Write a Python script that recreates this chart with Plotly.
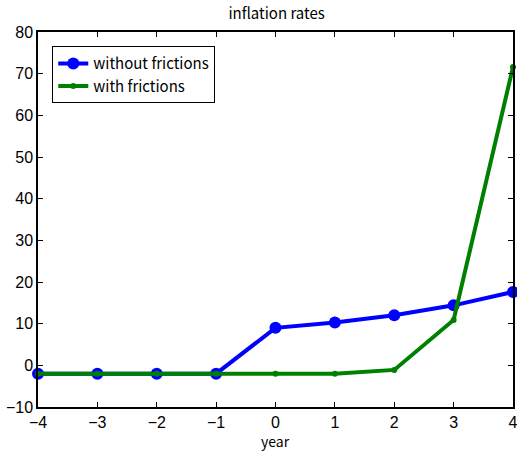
import plotly.graph_objects as go

years = [-4, -3, -2, -1, 0, 1, 2, 3, 4]
without_frictions = [-2.0, -2.0, -2.0, -2.0, 9.0, 10.3, 12.0, 14.4, 17.6]
with_frictions = [-2.0, -2.0, -2.0, -2.0, -2.0, -2.0, -1.1, 10.9, 71.6]
x_ticktext = ["\u22124", "\u22123", "\u22122", "\u22121", "0", "1", "2", "3", "4"]
y_tickvals = [-10, 0, 10, 20, 30, 40, 50, 60, 70, 80]
y_ticktext = ["\u221210", "0", "10", "20", "30", "40", "50", "60", "70", "80"]

fig = go.Figure()
fig.add_trace(go.Scatter(x=years, y=without_frictions, mode="lines+markers",
                         name="without frictions", cliponaxis=False,
                         line=dict(color="#0000ff", width=4),
                         marker=dict(size=12, color="#0000ff")))
fig.add_trace(go.Scatter(x=years, y=with_frictions, mode="lines+markers",
                         name="with frictions", cliponaxis=False,
                         line=dict(color="#008000", width=4),
                         marker=dict(size=6, color="#008000")))

lab_font = "Noto Sans CJK JP, Liberation Sans"
axis_common = dict(showgrid=False, zeroline=False, showline=True, linecolor="black",
                   linewidth=1.5, mirror="ticks", ticks="inside", ticklen=5,
                   tickcolor="black", automargin=False, ticklabeloverflow="allow",
                   tickfont=dict(size=16, color="black", family="Liberation Sans, Arial"))
fig.update_layout(
    width=517, height=451,
    margin=dict(l=38, r=4, t=32, b=44),
    paper_bgcolor="white", plot_bgcolor="white",
    title=dict(text="inflation rates", x=0.535, xanchor="center", y=1 - 14 / 451, yanchor="middle",
               font=dict(size=15, color="black", family=lab_font)),
    xaxis=dict(range=[-4, 4], tickvals=years, ticktext=x_ticktext, ticklabelstandoff=0,
               **axis_common),
    yaxis=dict(range=[-10, 80], tickvals=y_tickvals, ticktext=y_ticktext, **axis_common),
    legend=dict(x=0.03, y=0.962, xanchor="left", yanchor="top", bgcolor="white",
                bordercolor="black", borderwidth=1, tracegroupgap=0, itemwidth=30,
                font=dict(size=15, color="black", family=lab_font)),
    showlegend=True,
    annotations=[dict(text="year", xref="paper", yref="paper", x=0.5, y=-0.091,
                      xanchor="center", yanchor="middle", showarrow=False,
                      font=dict(size=14, color="black", family=lab_font))],
)
fig.write_html("out.html", config={"displayModeBar": False},
               post_script="document.body.style.margin='0px';document.body.style.overflow='hidden';")
